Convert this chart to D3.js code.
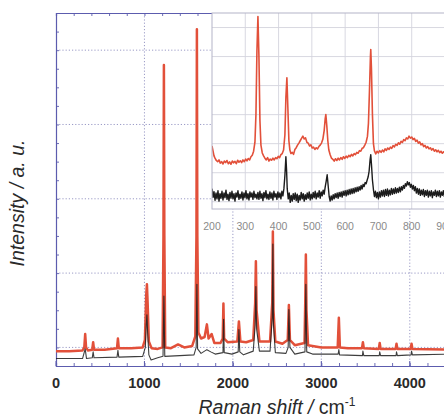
<!DOCTYPE html>
<html>
<head>
<meta charset="utf-8">
<script src="https://cdn.jsdelivr.net/npm/d3@7/dist/d3.min.js"></script>
<style>
  html, body { margin: 0; padding: 0; background: #fff; }
  svg { display: block; }
</style>
</head>
<body>
<svg id="chart" width="444" height="419"></svg>
<script>
// Full-range Raman spectra: [Raman shift (cm-1), intensity (a.u.)]
const mainRed = [[0,-0.05],[150,-0.05],[300,-0.04],[320,0.0],[330,0.18],[340,0.0],[360,-0.04],[410,-0.03],[420,0.07],[430,-0.03],[550,-0.03],[690,-0.01],[700,0.12],[710,-0.01],[850,-0.01],[980,0.0],[1005,0.1],[1020,0.7],[1028,0.85],[1036,0.6],[1050,0.08],[1080,-0.01],[1150,-0.02],[1205,0.0],[1215,1.5],[1220,3.80],[1225,1.5],[1235,0.0],[1300,-0.01],[1380,0.04],[1450,0.0],[1540,0.02],[1575,0.15],[1588,1.5],[1593,4.28],[1598,1.5],[1610,0.2],[1640,0.12],[1680,0.14],[1706,0.31],[1725,0.12],[1760,0.18],[1790,0.06],[1860,0.06],[1885,0.12],[1893,0.59],[1901,0.12],[1940,0.07],[2050,0.08],[2068,0.35],[2085,0.08],[2150,0.07],[2230,0.1],[2252,0.6],[2260,1.16],[2268,0.5],[2300,0.08],[2420,0.08],[2445,0.6],[2452,1.56],[2459,0.5],[2480,0.08],[2560,0.05],[2620,0.1],[2633,0.57],[2645,0.1],[2700,0.03],[2810,0.06],[2818,0.6],[2825,1.25],[2832,0.5],[2850,0.03],[3000,0.0],[3185,0.0],[3198,0.40],[3210,0.0],[3300,-0.01],[3460,-0.01],[3470,0.07],[3480,-0.01],[3650,-0.02],[3660,0.06],[3670,-0.02],[3840,-0.02],[3850,0.05],[3860,-0.02],[4010,-0.02],[4020,0.05],[4030,-0.02],[4500,-0.03]];

const mainBlack = [[0,-0.15],[300,-0.15],[330,-0.02],[345,-0.15],[410,-0.14],[420,-0.06],[430,-0.14],[690,-0.13],[700,-0.04],[710,-0.13],[980,-0.12],[1010,0.0],[1020,0.3],[1028,0.44],[1036,0.2],[1050,-0.1],[1075,-0.17],[1150,-0.14],[1210,-0.12],[1220,0.69],[1230,-0.12],[1400,-0.11],[1560,-0.10],[1585,0.0],[1593,0.85],[1601,-0.02],[1640,-0.08],[1706,-0.03],[1750,-0.06],[1800,-0.09],[1888,-0.07],[1895,0.38],[1902,-0.07],[1990,-0.09],[2060,-0.06],[2068,0.24],[2078,-0.06],[2120,-0.1],[2230,-0.05],[2252,0.3],[2260,0.82],[2268,0.25],[2300,-0.05],[2420,-0.05],[2445,0.4],[2452,1.39],[2459,0.3],[2480,-0.07],[2600,-0.08],[2625,0.0],[2633,0.51],[2645,0.0],[2700,-0.09],[2815,-0.06],[2825,0.85],[2835,-0.06],[2900,-0.09],[3190,-0.09],[3198,-0.03],[3206,-0.1],[3465,-0.11],[3470,-0.05],[3480,-0.11],[3655,-0.11],[3660,-0.06],[3670,-0.11],[3845,-0.11],[3850,-0.06],[3860,-0.11],[4015,-0.10],[4020,-0.05],[4030,-0.10],[4500,-0.09]];

// Low-wavenumber detail (200-900 cm-1)
const insetRed = [[200,1.92],[203,1.75],[206,1.58],[209,1.50],[213,1.42],[217,1.38],[221,1.44],[225,1.33],[229,1.38],[233,1.30],[237,1.40],[241,1.35],[245,1.42],[249,1.31],[253,1.37],[257,1.29],[261,1.40],[265,1.34],[269,1.39],[273,1.31],[277,1.43],[281,1.36],[285,1.41],[289,1.35],[293,1.44],[297,1.38],[301,1.47],[305,1.41],[309,1.49],[313,1.44],[317,1.55],[321,1.60],[325,1.74],[329,2.05],[332,3.0],[335,5.2],[338,6.38],[341,5.0],[344,2.8],[347,1.95],[351,1.68],[355,1.58],[359,1.50],[363,1.44],[367,1.52],[371,1.40],[375,1.47],[379,1.43],[383,1.50],[387,1.44],[391,1.52],[395,1.48],[399,1.56],[403,1.52],[407,1.62],[411,1.66],[415,1.78],[419,2.3],[422,3.6],[425,4.27],[428,3.2],[431,2.1],[434,1.78],[437,1.66],[441,1.70],[445,1.63],[449,1.80],[453,1.86],[457,1.95],[461,2.02],[465,2.10],[469,2.18],[473,2.26],[477,2.16],[481,2.20],[485,2.05],[489,2.02],[493,1.92],[497,1.96],[501,1.85],[505,1.88],[509,1.80],[513,1.86],[517,1.82],[521,1.90],[525,1.95],[529,2.02],[533,2.15],[537,2.45],[540,2.85],[542,3.0],[545,2.6],[548,2.1],[551,1.78],[555,1.62],[559,1.50],[563,1.46],[567,1.40],[571,1.48],[575,1.42],[579,1.50],[583,1.44],[587,1.52],[591,1.46],[595,1.55],[599,1.49],[603,1.57],[607,1.52],[611,1.60],[615,1.55],[619,1.63],[623,1.58],[627,1.66],[631,1.62],[635,1.70],[639,1.67],[643,1.76],[647,1.74],[651,1.84],[655,1.86],[659,1.95],[663,2.05],[667,2.25],[670,2.7],[673,3.8],[676,5.0],[677,5.24],[679,4.6],[682,3.0],[685,2.0],[688,1.75],[692,1.65],[696,1.74],[700,1.68],[704,1.76],[708,1.70],[712,1.78],[716,1.72],[720,1.82],[724,1.77],[728,1.85],[732,1.80],[736,1.88],[740,1.84],[744,1.93],[748,1.89],[752,1.98],[756,1.94],[760,2.03],[764,1.98],[768,2.08],[772,2.04],[776,2.14],[780,2.10],[784,2.20],[788,2.16],[792,2.26],[796,2.19],[800,2.23],[804,2.14],[808,2.18],[812,2.08],[816,2.12],[820,2.02],[824,2.06],[828,1.96],[832,2.00],[836,1.90],[840,1.94],[844,1.85],[848,1.90],[852,1.82],[856,1.86],[860,1.78],[864,1.83],[868,1.74],[872,1.79],[876,1.72],[880,1.77],[884,1.69],[888,1.74],[892,1.67],[896,1.72],[900,1.68]];

const insetBlack = [[200,0.45],[203,0.15],[206,0.35],[209,0.05],[212,0.30],[215,0.10],[218,0.38],[221,0.02],[224,0.28],[227,0.12],[230,0.36],[233,0.06],[236,0.30],[239,0.14],[242,0.40],[245,0.08],[248,0.26],[251,0.04],[254,0.32],[257,0.12],[260,0.36],[263,0.10],[266,0.28],[269,0.02],[272,0.30],[275,0.16],[278,0.38],[281,0.08],[284,0.26],[287,0.12],[290,0.34],[293,0.06],[296,0.30],[299,0.14],[302,0.38],[305,0.10],[308,0.28],[311,0.06],[314,0.34],[317,0.16],[320,0.30],[323,0.08],[326,0.36],[329,0.14],[332,0.26],[335,0.10],[338,0.32],[341,0.08],[344,0.36],[347,0.12],[350,0.28],[353,0.04],[356,0.32],[359,0.14],[362,0.38],[365,0.10],[368,0.26],[371,0.08],[374,0.34],[377,0.12],[380,0.30],[383,0.06],[386,0.36],[389,0.16],[392,0.28],[395,0.08],[398,0.34],[401,0.14],[404,0.30],[407,0.10],[410,0.36],[413,0.20],[416,0.45],[419,0.90],[422,1.55],[424,1.10],[426,0.45],[429,0.10],[432,0.30],[435,-0.02],[438,0.22],[441,0.02],[444,0.28],[447,0.08],[450,0.30],[453,0.04],[456,0.26],[459,-0.02],[462,0.22],[465,0.06],[468,0.32],[471,0.10],[474,0.28],[477,0.02],[480,0.24],[483,0.08],[486,0.30],[489,0.12],[492,0.34],[495,0.06],[498,0.26],[501,0.10],[504,0.32],[507,0.14],[510,0.36],[513,0.10],[516,0.30],[519,0.16],[522,0.38],[525,0.12],[528,0.34],[531,0.20],[534,0.40],[537,0.26],[540,0.50],[543,0.70],[546,0.93],[549,0.55],[552,0.18],[555,0.02],[558,0.20],[561,0.06],[564,0.24],[567,0.10],[570,0.28],[573,0.14],[576,0.30],[579,0.12],[582,0.32],[585,0.18],[588,0.34],[591,0.16],[594,0.36],[597,0.22],[600,0.38],[603,0.20],[606,0.40],[609,0.24],[612,0.42],[615,0.26],[618,0.44],[621,0.28],[624,0.46],[627,0.30],[630,0.48],[633,0.34],[636,0.50],[639,0.36],[642,0.52],[645,0.40],[648,0.56],[651,0.44],[654,0.60],[657,0.52],[660,0.66],[663,0.62],[666,0.74],[669,0.85],[672,1.05],[675,1.45],[677,1.62],[679,1.30],[682,0.75],[685,0.42],[688,0.18],[691,0.36],[694,0.14],[697,0.32],[700,0.10],[703,0.34],[706,0.16],[709,0.38],[712,0.20],[715,0.40],[718,0.18],[721,0.42],[724,0.22],[727,0.44],[730,0.20],[733,0.40],[736,0.24],[739,0.46],[742,0.26],[745,0.44],[748,0.28],[751,0.48],[754,0.30],[757,0.46],[760,0.32],[763,0.50],[766,0.34],[769,0.52],[772,0.40],[775,0.56],[778,0.46],[781,0.62],[784,0.54],[787,0.69],[790,0.58],[793,0.66],[796,0.50],[799,0.60],[802,0.44],[805,0.56],[808,0.38],[811,0.52],[814,0.30],[817,0.46],[820,0.26],[823,0.44],[826,0.22],[829,0.40],[832,0.24],[835,0.42],[838,0.18],[841,0.38],[844,0.22],[847,0.40],[850,0.16],[853,0.36],[856,0.20],[859,0.38],[862,0.14],[865,0.34],[868,0.22],[871,0.40],[874,0.18],[877,0.36],[880,0.20],[883,0.38],[886,0.16],[889,0.34],[892,0.22],[895,0.38],[898,0.18],[900,0.30]];

// Tick values and labels
const mainXTicks = [0, 1000, 2000, 3000, 4000];
const mainXMinor = d3.range(0, 4501, 200);
const mainYGrid = [0, 1, 2, 3, 4];
const mainYMinor = d3.range(-0.25, 4.51, 0.25);
const insetXTicks = [200, 300, 400, 500, 600, 700, 800, 900];
const insetYGrid = [0, 1, 2, 3, 4, 5, 6];

const xLabel = "Raman shift / ";
const xUnit = "cm";
const xUnitSup = "-1";
const yLabel = "Intensity / a. u.";

const RED = "#e2503a";
const BLACK = "#1c1c1c";
const FRAME = "#5c5cae";
const GRID = "#8f8fc0";

const svg = d3.select("#chart");

// ---------- main panel ----------
const x = d3.scaleLinear().domain([0, 4500]).range([56, 454]);
const y = d3.scaleLinear().domain([-0.25, 4.5]).range([366, 13]);
const [mx0, mx1] = x.range();
const [my1, my0] = y.range();

const defs = svg.append("defs");
defs.append("clipPath").attr("id", "clipMain")
  .append("rect").attr("x", mx0).attr("y", my0).attr("width", mx1 - mx0).attr("height", my1 - my0);

const main = svg.append("g");

// dotted grid
main.selectAll("line.vg").data(mainXTicks.filter(d => d > 0)).join("line")
  .attr("x1", d => x(d)).attr("x2", d => x(d)).attr("y1", my0).attr("y2", my1)
  .attr("stroke", GRID).attr("stroke-width", 0.9).attr("stroke-dasharray", "1.2,2");
main.selectAll("line.hg").data(mainYGrid).join("line")
  .attr("x1", mx0).attr("x2", mx1).attr("y1", d => y(d)).attr("y2", d => y(d))
  .attr("stroke", GRID).attr("stroke-width", 0.9).attr("stroke-dasharray", "1.2,2");

// inward ticks on bottom / top / left
const bottomAxis = d3.axisTop(x).tickValues(mainXMinor).tickSize(3).tickFormat("");
const topAxis = d3.axisBottom(x).tickValues(mainXMinor).tickSize(3).tickFormat("");
const leftAxis = d3.axisRight(y).tickValues(mainYMinor).tickSize(3).tickFormat("");
function styleAxis(g) {
  g.select(".domain").attr("stroke", FRAME).attr("stroke-width", 1.2);
  g.selectAll(".tick line").attr("stroke", FRAME).attr("stroke-width", 0.9);
}
main.append("g").attr("transform", `translate(0,${my1})`).call(bottomAxis).call(styleAxis);
main.append("g").attr("transform", `translate(0,${my0})`).call(topAxis).call(styleAxis);
main.append("g").attr("transform", `translate(${mx0},0)`).call(leftAxis).call(styleAxis);
// major ticks slightly longer
main.selectAll("line.maj").data(mainXTicks).join("line")
  .attr("x1", d => x(d)).attr("x2", d => x(d)).attr("y1", my1).attr("y2", my1 - 5)
  .attr("stroke", FRAME).attr("stroke-width", 1);

// tick labels
main.append("g").selectAll("text").data(mainXTicks).join("text")
  .attr("x", d => x(d)).attr("y", 388)
  .attr("text-anchor", "middle")
  .attr("font-family", "'Liberation Sans', Arial, sans-serif")
  .attr("font-weight", "bold").attr("font-size", 14.5)
  .attr("fill", "#2a2a2a")
  .text(d => d);

// spectra
const line = d3.line().x(d => x(d[0])).y(d => y(d[1]));
const plot = main.append("g").attr("clip-path", "url(#clipMain)");
plot.append("path").datum(mainRed).attr("d", line)
  .attr("fill", "none").attr("stroke", RED).attr("stroke-width", 2.5).attr("stroke-linejoin", "round");
plot.append("path").datum(mainBlack).attr("d", line)
  .attr("fill", "none").attr("stroke", BLACK).attr("stroke-width", 1.1)
  .attr("stroke-opacity", 0.85).attr("stroke-linejoin", "round");

// axis titles
const xt = svg.append("text")
  .attr("x", 277).attr("y", 414)
  .attr("text-anchor", "middle")
  .attr("font-family", "'Liberation Sans', Arial, sans-serif")
  .attr("font-size", 19.5).attr("fill", "#2a2a2a");
xt.append("tspan").attr("font-style", "italic").text(xLabel);
xt.append("tspan").text(xUnit);
xt.append("tspan").attr("font-size", 12).attr("dy", -8).text(xUnitSup);

svg.append("text")
  .attr("transform", "translate(24,203) rotate(-90)")
  .attr("text-anchor", "middle")
  .attr("font-family", "'Liberation Sans', Arial, sans-serif")
  .attr("font-style", "italic")
  .attr("font-size", 19.5).attr("fill", "#2a2a2a")
  .text(yLabel);

// ---------- inset panel ----------
const xi = d3.scaleLinear().domain([200, 900]).range([212, 445]);
const yi = d3.scaleLinear().domain([-0.25, 6.5]).range([209, 13]);
const [ix0, ix1] = xi.range();
const [iy1, iy0] = yi.range();

defs.append("clipPath").attr("id", "clipInset")
  .append("rect").attr("x", ix0).attr("y", iy0).attr("width", ix1 - ix0).attr("height", iy1 - iy0);

const inset = svg.append("g");
inset.append("rect")
  .attr("x", ix0).attr("y", iy0).attr("width", ix1 - ix0).attr("height", iy1 - iy0)
  .attr("fill", "#fff");

inset.selectAll("line.ivg").data(insetXTicks.slice(1, -1)).join("line")
  .attr("x1", d => xi(d)).attr("x2", d => xi(d)).attr("y1", iy0).attr("y2", iy1)
  .attr("stroke", "#d4d4de").attr("stroke-width", 0.9);
inset.selectAll("line.ihg").data(insetYGrid).join("line")
  .attr("x1", ix0).attr("x2", ix1).attr("y1", d => yi(d)).attr("y2", d => yi(d))
  .attr("stroke", "#d4d4de").attr("stroke-width", 0.9);

const iline = d3.line().x(d => xi(d[0])).y(d => yi(d[1]));
const iplot = inset.append("g").attr("clip-path", "url(#clipInset)");
iplot.append("path").datum(insetRed).attr("d", iline)
  .attr("fill", "none").attr("stroke", RED).attr("stroke-width", 1.6).attr("stroke-linejoin", "round");
iplot.append("path").datum(insetBlack).attr("d", iline)
  .attr("fill", "none").attr("stroke", BLACK).attr("stroke-width", 1.4).attr("stroke-linejoin", "round");

inset.append("rect")
  .attr("x", ix0).attr("y", iy0).attr("width", ix1 - ix0).attr("height", iy1 - iy0)
  .attr("fill", "none").attr("stroke", "#b4b4c8").attr("stroke-width", 1);

inset.append("g").selectAll("text").data(insetXTicks).join("text")
  .attr("x", d => xi(d)).attr("y", 230)
  .attr("text-anchor", "middle")
  .attr("font-family", "'Liberation Sans', Arial, sans-serif")
  .attr("font-size", 10.5).attr("fill", "#8a8a8a")
  .text(d => d);
</script>
</body>
</html>
